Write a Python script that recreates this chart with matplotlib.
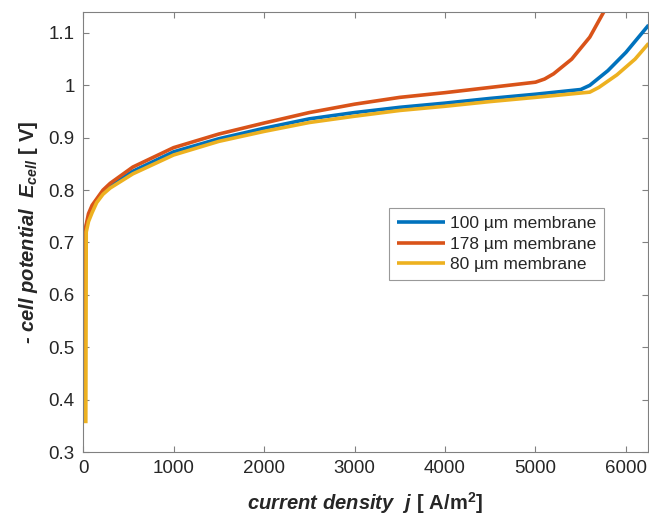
import numpy as np
import matplotlib
matplotlib.use("Agg")
import matplotlib.pyplot as plt

# ─────────────────────────────────────────────
# Data
# ─────────────────────────────────────────────

j_100 = [15, 18, 40, 80, 150, 220, 300, 550, 1000, 1500, 2000, 2500, 3000,
         3500, 4000, 4500, 5000, 5500, 5600, 5800, 6000, 6250]
E_100 = [0.36, 0.71, 0.735, 0.757, 0.781, 0.796, 0.808, 0.836, 0.873, 0.898, 0.918,
         0.936, 0.948, 0.958, 0.966, 0.975, 0.983, 0.992, 1.0, 1.028, 1.063, 1.115]

j_178 = [10, 12, 30, 60, 100, 220, 300, 550, 1000, 1500, 2000, 2500, 3000,
         3500, 4000, 4500, 5000, 5100, 5200, 5400, 5600, 5770]
E_178 = [0.36, 0.70, 0.73, 0.755, 0.771, 0.80, 0.813, 0.844, 0.881, 0.907, 0.928,
         0.948, 0.964, 0.977, 0.986, 0.996, 1.006, 1.012, 1.022, 1.05, 1.092, 1.145]

j_80 = [30, 35, 60, 100, 150, 220, 300, 550, 1000, 1500, 2000, 2500, 3000,
        3500, 4000, 4500, 5000, 5600, 5700, 5900, 6100, 6250]
E_80 = [0.355, 0.72, 0.74, 0.757, 0.776, 0.792, 0.804, 0.831, 0.867, 0.893, 0.912,
        0.929, 0.941, 0.952, 0.960, 0.969, 0.977, 0.987, 0.996, 1.02, 1.05, 1.08]

labels = ["100 µm membrane", "178 µm membrane", "80 µm membrane"]
colors = ["#0072BD", "#D95319", "#EDB120"]

x_ticks = [0, 1000, 2000, 3000, 4000, 5000, 6000]
y_ticks = [0.3, 0.4, 0.5, 0.6, 0.7, 0.8, 0.9, 1.0, 1.1]
y_tick_labels = ["0.3", "0.4", "0.5", "0.6", "0.7", "0.8", "0.9", "1", "1.1"]

# ─────────────────────────────────────────────
# Style
# ─────────────────────────────────────────────

plt.rcParams["font.family"] = ["Liberation Sans", "DejaVu Sans"]
plt.rcParams["mathtext.fontset"] = "custom"
plt.rcParams["mathtext.it"] = "Liberation Sans:italic:bold"
plt.rcParams["mathtext.rm"] = "Liberation Sans:bold"
plt.rcParams["mathtext.bf"] = "Liberation Sans:bold"

text_col = "#262626"
axis_col = "#808080"

# ─────────────────────────────────────────────
# Plot
# ─────────────────────────────────────────────

fig = plt.figure(figsize=(6.49, 5.21), dpi=100)
ax = fig.add_axes([0.128, 0.1324, 0.870, 0.8446])

series = [(j_100, E_100), (j_178, E_178), (j_80, E_80)]
for (j, E), lab, col in zip(series, labels, colors):
    ax.plot(j, E, color=col, lw=2.6, label=lab, solid_capstyle="butt")

ax.set_xlim(0, 6240)
ax.set_ylim(0.3, 1.14)
ax.set_xticks(x_ticks)
ax.set_yticks(y_ticks)
ax.set_yticklabels(y_tick_labels)

for s in ax.spines.values():
    s.set_color(axis_col)
    s.set_linewidth(0.8)
ax.tick_params(direction="in", top=True, right=True, length=4,
               color=axis_col, labelcolor=text_col, labelsize=13.5, pad=6)

ax.set_xlabel(r"$\mathit{current\ density\ \ j}\ \mathrm{[\ A/m^2]}$",
              fontsize=14.5, color=text_col, labelpad=9)
ax.set_ylabel(r"- cell potential  $\mathit{E_{cell}}$ $\mathrm{[\ V]}$",
              fontsize=14.5, color=text_col, fontweight="bold",
              fontstyle="italic", labelpad=6)

leg = ax.legend(loc="lower left", bbox_to_anchor=(0.542, 0.391),
                fontsize=12.5, frameon=True, fancybox=False,
                handlelength=2.75, handletextpad=0.3, borderpad=0.45,
                labelspacing=0.3, borderaxespad=0)
leg.get_frame().set_edgecolor(axis_col)
leg.get_frame().set_linewidth(0.8)
for t in leg.get_texts():
    t.set_color(text_col)

fig.savefig("out.png", dpi=100)
plt.close(fig)
